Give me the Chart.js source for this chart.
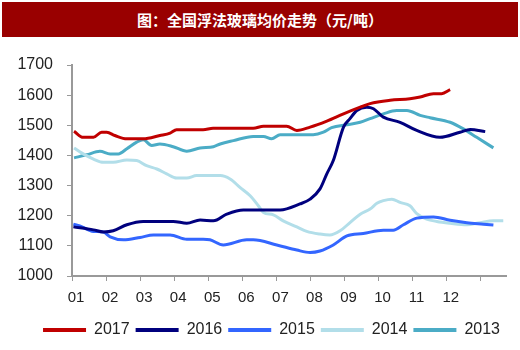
<!DOCTYPE html>
<html>
<head>
<meta charset="utf-8">
<style>
    body { margin: 0; background: #fff; }
    #wrap { position: relative; width: 520px; height: 350px; }
    .title {
        position: absolute; left: 2px; top: 2px; width: 516px; height: 35px;
        background: #990000; color: #fff; text-align: center;
        font: bold 15px "Noto Sans CJK SC", sans-serif; line-height: 35px;
    }
    canvas { position: absolute; left: 0; top: 0; }
</style>
</head>
<body>
<div id="wrap">
    <div class="title">图：全国浮法玻璃均价走势（元/吨）</div>
    <canvas id="glassChart" width="520" height="350"></canvas>
</div>

<script src="https://cdn.jsdelivr.net/npm/chart.js@4.4.0/dist/chart.umd.min.js"></script>
<script>
    // tick labels for the months
    const monthLabels = ['01', '02', '03', '04', '05', '06', '07', '08', '09', '10', '11', '12'];

    // x = position in months from start of year, y = yuan / ton
    const months2017 = [0.06, 0.33, 0.63, 0.87, 1.02, 1.26, 1.61, 2.09, 2.58, 2.88, 3.07, 3.85, 4.14, 5.32, 5.62, 6.30, 6.60, 6.99, 7.48, 7.97, 8.46, 8.75, 9.34, 9.92, 10.22, 10.61, 10.85, 11.10];
    const price2017 = [1480, 1460, 1460, 1477, 1477, 1466, 1455, 1455, 1466, 1474, 1485, 1485, 1490, 1490, 1497, 1497, 1483, 1494, 1514, 1538, 1560, 1572, 1583, 1588, 1594, 1605, 1605, 1618];

    const months2016 = [0.04, 0.63, 0.92, 1.21, 1.61, 2.09, 2.97, 3.37, 3.76, 4.15, 4.54, 5.03, 6.11, 6.69, 6.99, 7.28, 7.48, 7.67, 7.97, 8.16, 8.36, 8.65, 8.85, 9.14, 9.63, 10.12, 10.80, 11.39, 11.69, 12.13];
    const price2016 = [1163, 1153, 1146, 1150, 1170, 1181, 1181, 1175, 1186, 1183, 1205, 1219, 1219, 1239, 1255, 1289, 1339, 1383, 1494, 1522, 1549, 1560, 1555, 1527, 1510, 1483, 1460, 1477, 1486, 1479];

    const months2015 = [0.04, 0.23, 0.63, 0.92, 1.12, 1.51, 2.00, 2.39, 2.88, 3.37, 3.85, 4.05, 4.44, 5.13, 5.32, 6.01, 6.60, 6.99, 7.28, 7.67, 8.07, 8.55, 9.14, 9.43, 9.73, 10.12, 10.61, 11.10, 11.59, 12.08, 12.37];
    const price2015 = [1172, 1166, 1148, 1146, 1130, 1120, 1128, 1136, 1136, 1122, 1122, 1120, 1103, 1120, 1120, 1103, 1086, 1078, 1083, 1103, 1133, 1141, 1152, 1152, 1170, 1192, 1196, 1185, 1177, 1172, 1169];

    const months2014 = [0.06, 0.33, 0.63, 0.92, 1.21, 1.61, 1.90, 2.19, 2.49, 2.78, 3.07, 3.37, 3.66, 4.35, 4.64, 4.93, 5.23, 5.47, 5.62, 5.91, 6.20, 6.60, 6.89, 7.28, 7.57, 7.87, 8.16, 8.46, 8.75, 8.95, 9.14, 9.39, 9.63, 9.92, 10.12, 10.41, 10.71, 11.10, 11.59, 11.98, 12.37, 12.66];
    const price2014 = [1425, 1405, 1388, 1377, 1377, 1385, 1383, 1366, 1355, 1339, 1325, 1325, 1333, 1333, 1322, 1294, 1266, 1233, 1211, 1203, 1183, 1163, 1148, 1139, 1136, 1150, 1177, 1205, 1222, 1241, 1250, 1255, 1244, 1233, 1207, 1189, 1181, 1175, 1170, 1177, 1183, 1183];

    const months2013 = [0.06, 0.43, 0.82, 1.12, 1.36, 1.61, 1.90, 2.09, 2.34, 2.58, 2.97, 3.37, 3.76, 4.15, 4.35, 4.74, 5.32, 5.62, 5.86, 6.11, 7.08, 7.38, 7.62, 8.07, 8.46, 8.75, 9.14, 9.53, 9.83, 10.22, 10.51, 11.10, 11.49, 11.88, 12.37];
    const price2013 = [1392, 1402, 1414, 1405, 1405, 1422, 1444, 1452, 1433, 1438, 1429, 1414, 1425, 1429, 1438, 1449, 1463, 1463, 1455, 1469, 1469, 1477, 1492, 1502, 1510, 1522, 1538, 1549, 1549, 1533, 1525, 1510, 1488, 1460, 1425];

    const series = [
        { label: '2017', months: months2017, prices: price2017, color: '#C00000' },
        { label: '2016', months: months2016, prices: price2016, color: '#00007E' },
        { label: '2015', months: months2015, prices: price2015, color: '#3366FF' },
        { label: '2014', months: months2014, prices: price2014, color: '#B2DEE9' },
        { label: '2013', months: months2013, prices: price2013, color: '#4BACC6' }
    ];

    const datasets = series.map(s => ({
        label: s.label,
        data: s.months.map((m, i) => ({ x: m, y: s.prices[i] })),
        borderColor: s.color,
        backgroundColor: s.color,
        borderWidth: 3,
        pointRadius: 0,
        cubicInterpolationMode: 'monotone',
        fill: false
    }));

    const axisColor = '#999999';

    new Chart(document.getElementById('glassChart'), {
        type: 'line',
        data: { datasets: datasets },
        options: {
            responsive: false,
            animation: false,
            layout: { padding: { top: 65, left: 0, right: 14, bottom: 2 } },
            scales: {
                x: {
                    type: 'linear',
                    min: 0,
                    max: 12.74,
                    afterBuildTicks: function(scale) {
                        scale.ticks = [0, 1, 2, 3, 4, 5, 6, 7, 8, 9, 10, 11, 12].map(v => ({ value: v }));
                    },
                    afterFit: function(scale) { scale.height = 40; },
                    ticks: {
                        autoSkip: false,
                        maxRotation: 0,
                        labelOffset: 4,
                        padding: 8,
                        color: '#222',
                        font: { family: 'Liberation Sans', size: 15 },
                        callback: function(value) { return monthLabels[value] || ''; }
                    },
                    grid: { drawOnChartArea: false, tickLength: 5, color: axisColor },
                    border: { color: axisColor, width: 2 }
                },
                y: {
                    min: 1000,
                    max: 1700,
                    afterFit: function(scale) { scale.width = 72; },
                    ticks: {
                        stepSize: 100,
                        padding: 14,
                        color: '#222',
                        font: { family: 'Liberation Sans', size: 16 },
                        callback: function(value) { return String(value); }
                    },
                    grid: { drawOnChartArea: false, tickLength: 5, color: axisColor },
                    border: { color: axisColor, width: 2 }
                }
            },
            plugins: {
                legend: {
                    position: 'bottom',
                    align: 'end',
                    labels: {
                        boxWidth: 43,
                        boxHeight: 4,
                        padding: 6,
                        color: '#222',
                        font: { family: 'Liberation Sans', size: 16 },
                        generateLabels: function(chart) {
                            return Chart.defaults.plugins.legend.labels.generateLabels(chart).map(item => {
                                item.lineWidth = 0;
                                return item;
                            });
                        }
                    }
                },
                tooltip: { enabled: false }
            }
        }
    });
</script>
</body>
</html>
